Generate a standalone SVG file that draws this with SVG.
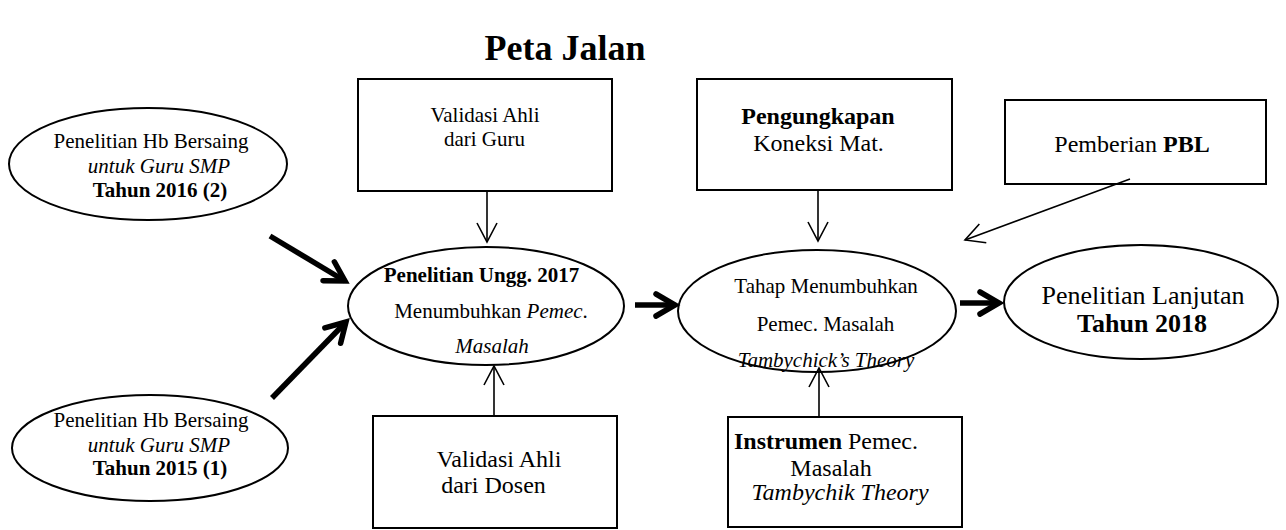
<svg xmlns="http://www.w3.org/2000/svg" width="1286" height="530" viewBox="0 0 1286 530">
<style>
text{font-family:"Liberation Serif","Times New Roman",serif;fill:#000;text-anchor:middle}
.t21{font-size:21px}
.t24{font-size:24px}
.t26{font-size:26px}
.b{font-weight:bold}
.i{font-style:italic}
.box{fill:#fff;stroke:#000;stroke-width:2}
.ell{fill:#fff;stroke:#000;stroke-width:2}
.thin{stroke:#000;stroke-width:1.6;fill:none}
.thick{stroke:#000;stroke-width:5.5;fill:none}
</style>
<defs>
<marker id="ah" markerUnits="userSpaceOnUse" markerWidth="24" markerHeight="24" refX="19" refY="11" orient="auto" overflow="visible">
<path d="M0,1 L19,11 L0,21" fill="none" stroke="#000" stroke-width="1.6"/>
</marker>
<marker id="ahT" markerUnits="userSpaceOnUse" markerWidth="30" markerHeight="30" refX="19" refY="11" orient="auto" overflow="visible">
<path d="M0,0 L19,11 L0,22" fill="none" stroke="#000" stroke-width="5.5" stroke-linecap="round"/>
</marker>
</defs>
<rect width="1286" height="530" fill="#fff"/>
<text x="565" y="60" class="b" style="font-size:36px">Peta Jalan</text>

<g id="n-2016">
<ellipse class="ell" cx="148" cy="164" rx="139" ry="56"/>
<text class="t21" x="151" y="148">Penelitian Hb Bersaing</text>
<text class="t21 i" x="159" y="173">untuk Guru SMP</text>
<text class="t21 b" x="160" y="197">Tahun 2016 (2)</text>
</g>
<g id="n-2015">
<ellipse class="ell" cx="150" cy="448" rx="138" ry="53"/>
<text class="t21" x="151" y="427">Penelitian Hb Bersaing</text>
<text class="t21 i" x="159" y="452">untuk Guru SMP</text>
<text class="t21 b" x="160" y="475">Tahun 2015 (1)</text>
</g>
<g id="n-guru">
<rect class="box" x="358" y="79" width="254" height="112"/>
<text class="t21" x="485" y="122">Validasi Ahli</text>
<text class="t21" x="484.5" y="146">dari Guru</text>
</g>
<g id="n-koneksi">
<rect class="box" x="697" y="79" width="255" height="111"/>
<text class="t24 b" x="818" y="124">Pengungkapan</text>
<text class="t24" x="818.5" y="151">Koneksi Mat.</text>
</g>
<g id="n-pbl">
<rect class="box" x="1005" y="100" width="261" height="84"/>
<text class="t24" x="1132" y="152">Pemberian <tspan class="b">PBL</tspan></text>
</g>
<g id="n-2017">
<ellipse class="ell" cx="486" cy="306" rx="138" ry="59"/>
<text class="t21 b" x="481.5" y="282">Penelitian Ungg. 2017</text>
<text class="t21" x="491" y="318">Menumbuhkan <tspan class="i">Pemec</tspan>.</text>
<text class="t21 i" x="492" y="353">Masalah</text>
</g>
<g id="n-tahap">
<ellipse class="ell" cx="817" cy="311" rx="139" ry="61"/>
<text class="t21" x="826" y="293">Tahap Menumbuhkan</text>
<text class="t21" x="825.5" y="331">Pemec. Masalah</text>
<text class="t21 i" x="826" y="367">Tambychick’s Theory</text>
</g>
<g id="n-2018">
<ellipse class="ell" cx="1141" cy="302" rx="137" ry="57"/>
<text class="t26" x="1143" y="304">Penelitian Lanjutan</text>
<text class="t26 b" x="1142" y="332">Tahun 2018</text>
</g>
<g id="n-dosen">
<rect class="box" x="373" y="416" width="244" height="112"/>
<text class="t24" x="499" y="467">Validasi Ahli</text>
<text class="t24" x="493.5" y="493">dari Dosen</text>
</g>
<g id="n-instrumen">
<rect class="box" x="728" y="417" width="234" height="110"/>
<text class="t24" x="826" y="449"><tspan class="b">Instrumen</tspan> Pemec.</text>
<text class="t24" x="831" y="476">Masalah</text>
<text class="t24 i" x="840" y="500">Tambychik Theory</text>
</g>

<g id="connectors">
<line class="thick" x1="270" y1="236" x2="345" y2="281" marker-end="url(#ahT)"/>
<line class="thick" x1="272" y1="398" x2="346" y2="322" marker-end="url(#ahT)"/>
<line class="thick" x1="635" y1="305" x2="675" y2="305" marker-end="url(#ahT)"/>
<line class="thick" x1="960" y1="303" x2="999" y2="303" marker-end="url(#ahT)"/>
<line class="thin" x1="487" y1="191" x2="487" y2="242" marker-end="url(#ah)"/>
<line class="thin" x1="818" y1="190" x2="818" y2="241" marker-end="url(#ah)"/>
<line class="thin" x1="1130" y1="179" x2="965" y2="240" marker-end="url(#ah)"/>
<line class="thin" x1="494" y1="416" x2="494" y2="366" marker-end="url(#ah)"/>
<line class="thin" x1="819" y1="417" x2="819" y2="368" marker-end="url(#ah)"/>
</g>
</svg>
